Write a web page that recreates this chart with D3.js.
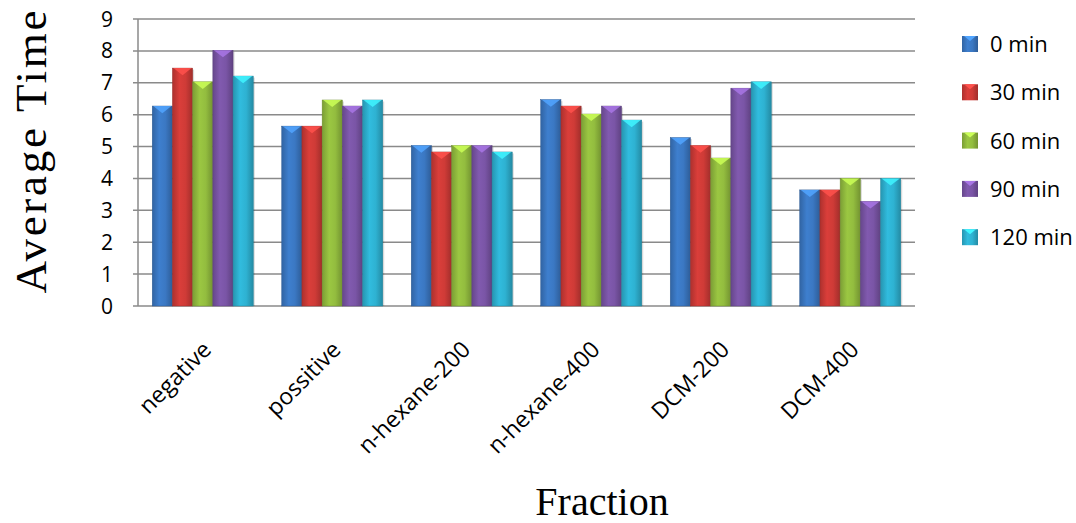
<!DOCTYPE html>
<html>
<head>
<meta charset="utf-8">
<script src="https://cdn.jsdelivr.net/npm/d3@7"></script>
<style>
  body { margin: 0; background: #fff; }
  svg { display: block; }
</style>
</head>
<body>
<div id="chart"></div>
<script>
const categories = ["negative", "possitive", "n-hexane-200", "n-hexane-400", "DCM-200", "DCM-400"];
const seriesNames = ["0 min", "30 min", "60 min", "90 min", "120 min"];
const s0 = [6.27, 5.64, 5.03, 6.47, 5.28, 3.64];
const s30 = [7.46, 5.64, 4.83, 6.27, 5.03, 3.64];
const s60 = [7.03, 6.46, 5.03, 6.02, 4.64, 4.0];
const s90 = [8.02, 6.27, 5.03, 6.27, 6.83, 3.28];
const s120 = [7.21, 6.46, 4.83, 5.83, 7.03, 4.0];
const yTicks = [0, 1, 2, 3, 4, 5, 6, 7, 8, 9];
const colors = ["#3b78c3", "#cf3b37", "#93bd3f", "#7a55a6", "#2eb2d2"];

const series = [s0, s30, s60, s90, s120];
const W = 1076, H = 523;
const m = { left: 138, right: 161, top: 19, bottom: 217 };
const svg = d3.select("#chart").append("svg").attr("width", W).attr("height", H);
const defs = svg.append("defs");

colors.forEach((c, i) => {
  const g = defs.append("linearGradient").attr("id", "g" + i).attr("x1", "0").attr("x2", "1").attr("y1", "0").attr("y2", "0");
  const base = d3.color(c);
  g.append("stop").attr("offset", "0").attr("stop-color", base.darker(0.5));
  g.append("stop").attr("offset", "0.35").attr("stop-color", base.brighter(0.15));
  g.append("stop").attr("offset", "0.65").attr("stop-color", base);
  g.append("stop").attr("offset", "1").attr("stop-color", base.darker(0.7));
});

const x0 = d3.scaleBand().domain(categories).range([m.left, W - m.right]).paddingInner(0.22).paddingOuter(0.11);
const x1 = d3.scaleBand().domain(d3.range(seriesNames.length)).range([0, x0.bandwidth()]);
const y = d3.scaleLinear().domain([0, 9]).range([H - m.bottom, m.top]);

// gridlines
svg.append("g").selectAll("line").data(yTicks).join("line")
  .attr("x1", m.left - 5).attr("x2", W - m.right)
  .attr("y1", d => y(d)).attr("y2", d => y(d))
  .attr("stroke", "#8a8a8a").attr("stroke-width", 1.5);

// left axis line
svg.append("line").attr("x1", m.left).attr("x2", m.left).attr("y1", y(9)).attr("y2", y(0))
  .attr("stroke", "#8a8a8a").attr("stroke-width", 1.5);

// y tick labels
svg.append("g").selectAll("text").data(yTicks).join("text")
  .attr("x", 113).attr("y", d => y(d)).attr("dy", "0.36em")
  .attr("text-anchor", "end")
  .style("font-family", "'Open Sans', sans-serif").style("font-size", "21px").attr("fill", "#000")
  .text(d => d);

// bars
const groups = svg.append("g").selectAll("g").data(categories).join("g")
  .attr("transform", d => `translate(${x0(d)},0)`);
groups.each(function (cat, ci) {
  const g = d3.select(this);
  series.forEach((s, si) => {
    const bx = x1(si), bw = x1.bandwidth(), by = y(s[ci]), bh = y(0) - y(s[ci]);
    g.append("rect").attr("x", bx + 1.5).attr("y", by + 1.5).attr("width", bw).attr("height", bh - 1.5)
      .attr("fill", "#000").attr("opacity", 0.15);
    g.append("rect").attr("x", bx).attr("y", by).attr("width", bw).attr("height", bh)
      .attr("fill", `url(#g${si})`).attr("stroke", d3.color(colors[si]).darker(0.8)).attr("stroke-width", 0.5);
    g.append("path")
      .attr("d", `M${bx + 1},${by} L${bx + bw - 1},${by} L${bx + bw / 2},${by + bw * 0.35} Z`)
      .attr("fill", d3.color(colors[si]).brighter(0.9)).attr("opacity", 0.85);
  });
});

// x tick labels
svg.append("g").selectAll("text").data(categories).join("text")
  .attr("transform", d => `translate(${x0(d) + x0.bandwidth() / 2 + 10},${351}) rotate(-45)`)
  .attr("text-anchor", "end")
  .style("font-family", "'Open Sans', sans-serif").style("font-size", "23px").attr("fill", "#000")
  .text(d => d);

// legend
const lg = svg.append("g").selectAll("g").data(seriesNames).join("g")
  .attr("transform", (d, i) => `translate(962,${44 + i * 48.3})`);
lg.append("rect").attr("x", 0).attr("y", -8).attr("width", 16).attr("height", 16)
  .attr("fill", (d, i) => `url(#g${i})`);
lg.append("path").attr("d", "M2,-8 L14,-8 L8,-3 Z").attr("fill", (d, i) => d3.color(colors[i]).brighter(0.9));
lg.append("text").attr("x", 28).attr("dy", "0.36em")
  .style("font-family", "'Open Sans', sans-serif").style("font-size", "22px").attr("fill", "#000")
  .text(d => d);

// axis titles
svg.append("text").attr("transform", "translate(46,152) rotate(-90)")
  .attr("text-anchor", "middle").attr("textLength", 283).attr("lengthAdjust", "spacing")
  .style("font-family", "'Liberation Serif', 'Times New Roman', serif").style("font-size", "45px").attr("fill", "#000")
  .text("Average Time");
svg.append("text").attr("x", 602).attr("y", 515).attr("text-anchor", "middle")
  .style("font-family", "'Liberation Serif', 'Times New Roman', serif").style("font-size", "40px").attr("fill", "#000")
  .text("Fraction");
</script>
</body>
</html>
